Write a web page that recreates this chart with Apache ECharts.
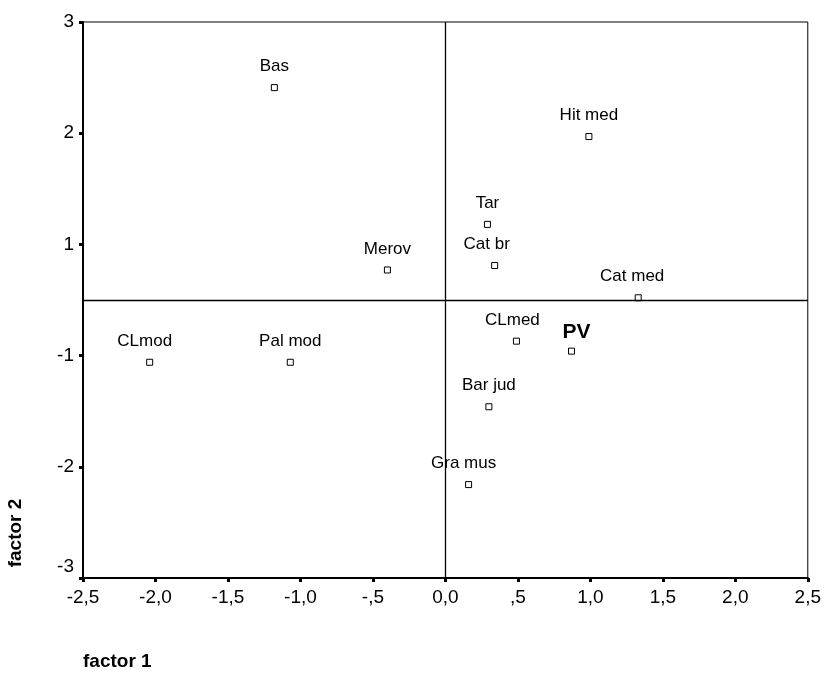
<!DOCTYPE html>
<html>
<head>
<meta charset="utf-8">
<script src="https://cdn.jsdelivr.net/npm/echarts@6/dist/echarts.min.js"></script>
<style>
  html, body { margin: 0; padding: 0; background: #fff; }
  #main { width: 824px; height: 674px; }
</style>
</head>
<body>
<div id="main"></div>
<script>
var chartDom = document.getElementById('main');
var myChart = echarts.init(chartDom);
var option;

const FONT = "'Liberation Sans', Arial, sans-serif";

// factor scores
const names = ['Bas', 'Hit med', 'Tar', 'Cat br', 'Merov', 'Cat med', 'CLmod', 'Pal mod', 'CLmed', 'PV', 'Bar jud', 'Gra mus'];
const factor1 = [-1.18, 0.99, 0.29, 0.34, -0.40, 1.33, -2.04, -1.07, 0.49, 0.87, 0.30, 0.16];
const factor2 = [1.91, 1.47, 0.68, 0.31, 0.27, 0.02, -0.56, -0.56, -0.37, -0.46, -0.96, -1.66];

// axis ticks: y ticks sit on half units and are printed rounded
const xTickLabels = ['-2,5', '-2,0', '-1,5', '-1,0', '-,5', '0,0', ',5', '1,0', '1,5', '2,0', '2,5'];
const yTickValues = [-2.5, -1.5, -0.5, 0.5, 1.5, 2.5];
const yTickLabels = ['-3', '-2', '-1', '1', '2', '3'];

// small label nudges (pixels) so the labels sit like in the original
const labelNudge = {
  'Cat br': [-8, 0],
  'Cat med': [-6, 0],
  'CLmod': [-5, 0],
  'CLmed': [-4, 0],
  'Gra mus': [-5, 0],
  'PV': [5, 4]
};

function getPointData()
{
  return names.map((n, i) => {
    let item = {
      name: n,
      value: [factor1[i], factor2[i]],
      label: { offset: labelNudge[n] || [0, 0] }
    };
    if (n === 'PV') {
      item.label.fontSize = 21;
      item.label.fontWeight = 'bold';
    }
    return item;
  });
}

option = {
  animation: false,
  textStyle: { fontFamily: FONT },
  grid: {
    left: 83,
    right: 15,
    top: 22,
    bottom: 96,
    show: true,
    borderColor: '#000',
    borderWidth: 1
  },
  xAxis: {
    type: 'value',
    min: -2.5,
    max: 2.5,
    interval: 0.5,
    splitLine: { show: false },
    axisLine: { onZero: false, lineStyle: { color: '#000', width: 2 } },
    axisTick: { length: 4, lineStyle: { color: '#000', width: 3 } },
    axisLabel: {
      color: '#000',
      fontSize: 19,
      fontFamily: FONT,
      margin: 10,
      formatter: v => xTickLabels[Math.round((v + 2.5) / 0.5)]
    }
  },
  yAxis: {
    type: 'value',
    min: -2.5,
    max: 2.5,
    splitLine: { show: false },
    axisLine: { onZero: false, lineStyle: { color: '#000', width: 2 } },
    axisTick: {
      customValues: yTickValues,
      length: 4,
      lineStyle: { color: '#000', width: 3 }
    },
    axisLabel: {
      customValues: yTickValues,
      color: '#000',
      fontSize: 19,
      fontFamily: FONT,
      margin: 9,
      formatter: v => {
        const idx = yTickValues.findIndex(t => Math.abs(t - v) < 1e-6);
        const txt = yTickLabels[idx];
        return idx === 0 ? '{up|' + txt + '}' : txt;
      },
      rich: {
        up: { fontSize: 19, fontFamily: FONT, color: '#000', padding: [0, 0, 22, 0] }
      }
    }
  },
  graphic: [
    {
      type: 'text',
      x: 83,
      y: 662,
      style: {
        text: 'factor 1',
        font: 'bold 19px ' + FONT,
        fill: '#000',
        textAlign: 'left',
        textVerticalAlign: 'middle'
      }
    },
    {
      type: 'text',
      x: 16,
      y: 533,
      rotation: Math.PI / 2,
      style: {
        text: 'factor 2',
        font: 'bold 19px ' + FONT,
        fill: '#000',
        textAlign: 'center',
        textVerticalAlign: 'middle'
      }
    }
  ],
  series: [
    {
      type: 'scatter',
      symbol: 'rect',
      symbolSize: 6,
      itemStyle: { color: '#fff', borderColor: '#000', borderWidth: 1, opacity: 1 },
      label: {
        show: true,
        position: 'top',
        distance: 9,
        color: '#000',
        fontSize: 17,
        fontFamily: FONT,
        formatter: p => p.name
      },
      emphasis: { disabled: true },
      data: getPointData(),
      markLine: {
        silent: true,
        symbol: ['none', 'none'],
        label: { show: false },
        lineStyle: { color: '#000', width: 1.3, type: 'solid' },
        data: [{ xAxis: 0 }, { yAxis: 0 }]
      },
      z: 3
    }
  ]
};

option && myChart.setOption(option);
</script>
</body>
</html>
